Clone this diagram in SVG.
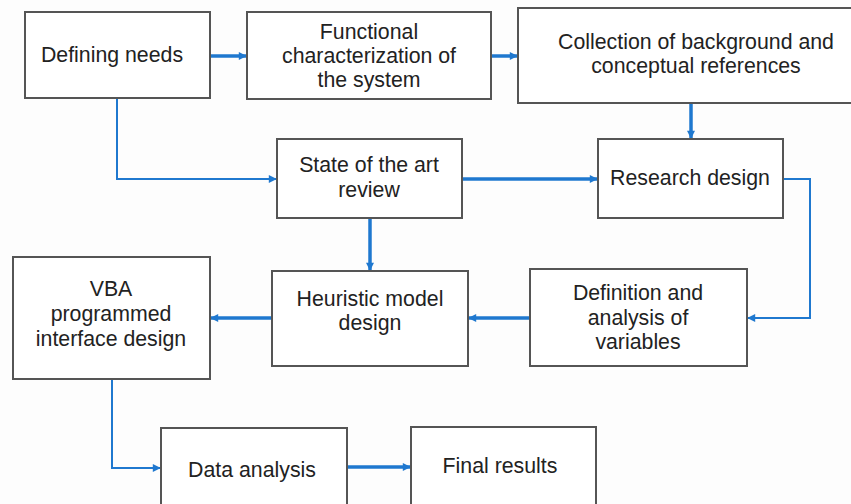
<svg xmlns="http://www.w3.org/2000/svg" width="851" height="504" viewBox="0 0 851 504">
  <defs>
    <style>
      .box { fill: #ffffff; stroke: #555555; stroke-width: 2; }
      .lbl { font-family: "Liberation Sans", Arial, sans-serif; font-size: 21.3px; fill: #222222; text-anchor: middle; }
      .wire { fill: none; stroke: #1f78cf; stroke-linejoin: miter; }
      .thick { stroke-width: 3.5; }
      .thin { stroke-width: 2; }
    </style>
    <marker id="arrow" viewBox="0 0 10 10" refX="9" refY="5" markerWidth="9" markerHeight="8" markerUnits="userSpaceOnUse" orient="auto">
      <path d="M0,0 L10,5 L0,10 z" fill="#1f78cf"/>
    </marker>
  </defs>

  <rect width="851" height="504" fill="#fdfdfd"/>

  <!-- connectors -->
  <g id="connectors">
    <path class="wire thick" d="M210,56 H246" marker-end="url(#arrow)"/>
    <path class="wire thick" d="M491,56 H517" marker-end="url(#arrow)"/>
    <path class="wire thick" d="M691,103 V138" marker-end="url(#arrow)"/>
    <path class="wire thin" d="M117,98 V179 H276" marker-end="url(#arrow)"/>
    <path class="wire thick" d="M462,179 H597" marker-end="url(#arrow)"/>
    <path class="wire thick" d="M370,218 V270" marker-end="url(#arrow)"/>
    <path class="wire thin" d="M783,179 H810 V318 H748" marker-end="url(#arrow)"/>
    <path class="wire thick" d="M530,318 H469" marker-end="url(#arrow)"/>
    <path class="wire thick" d="M272,318 H211" marker-end="url(#arrow)"/>
    <path class="wire thin" d="M112,379 V468 H160" marker-end="url(#arrow)"/>
    <path class="wire thick" d="M347,467 H410" marker-end="url(#arrow)"/>
  </g>

  <!-- nodes -->
  <g id="defining-needs">
    <rect class="box" x="25" y="12" width="185" height="86"/>
    <text class="lbl" x="112" y="62">Defining needs</text>
  </g>

  <g id="functional-characterization">
    <rect class="box" x="247" y="12" width="244" height="87"/>
    <text class="lbl" x="369" y="39">Functional</text>
    <text class="lbl" x="369" y="63">characterization of</text>
    <text class="lbl" x="369" y="87">the system</text>
  </g>

  <g id="background-references">
    <rect class="box" x="518" y="8" width="356" height="95"/>
    <text class="lbl" x="696" y="49">Collection of background and</text>
    <text class="lbl" x="696" y="73">conceptual references</text>
  </g>

  <g id="state-of-the-art">
    <rect class="box" x="277" y="139" width="185" height="79"/>
    <text class="lbl" x="369" y="172">State of the art</text>
    <text class="lbl" x="369" y="197">review</text>
  </g>

  <g id="research-design">
    <rect class="box" x="598" y="139" width="185" height="79"/>
    <text class="lbl" x="690" y="185">Research design</text>
  </g>

  <g id="vba-interface">
    <rect class="box" x="13" y="257" width="197" height="122"/>
    <text class="lbl" x="111" y="296">VBA</text>
    <text class="lbl" x="111" y="321">programmed</text>
    <text class="lbl" x="111" y="346">interface design</text>
  </g>

  <g id="heuristic-model">
    <rect class="box" x="272" y="271" width="196" height="95"/>
    <text class="lbl" x="370" y="306">Heuristic model</text>
    <text class="lbl" x="370" y="330">design</text>
  </g>

  <g id="variables">
    <rect class="box" x="530" y="269" width="217" height="97"/>
    <text class="lbl" x="638" y="300">Definition and</text>
    <text class="lbl" x="638" y="325">analysis of</text>
    <text class="lbl" x="638" y="349">variables</text>
  </g>

  <g id="data-analysis">
    <rect class="box" x="161" y="428" width="186" height="86"/>
    <text class="lbl" x="252" y="477">Data analysis</text>
  </g>

  <g id="final-results">
    <rect class="box" x="411" y="427" width="185" height="87"/>
    <text class="lbl" x="500" y="473">Final results</text>
  </g>
</svg>
